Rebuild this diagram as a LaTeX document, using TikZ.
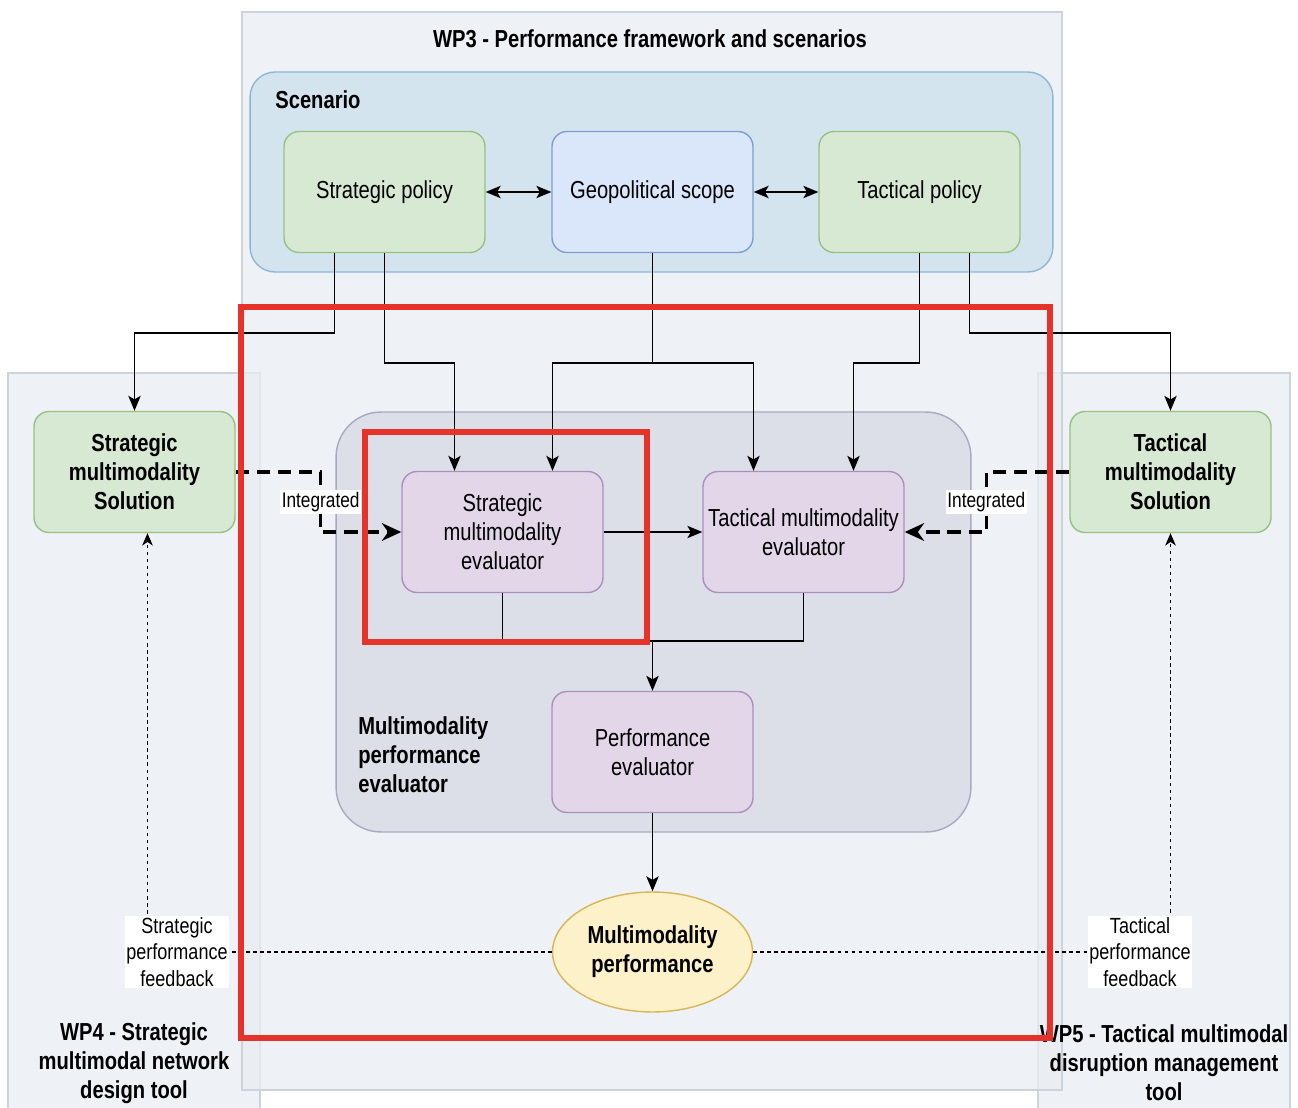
\documentclass[tikz,border=0pt]{standalone}
\usepackage{fontspec}
\setmainfont{Liberation Sans}[FakeStretch=0.82]
\usetikzlibrary{arrows.meta,calc,shapes.geometric}

\definecolor{panelfill}{HTML}{E9EDF2}
\definecolor{panelline}{HTML}{CDD3DA}
\definecolor{scenfill}{HTML}{D3E4EF}
\definecolor{scenline}{HTML}{8DB6D6}
\definecolor{greenfill}{HTML}{D7E8D3}
\definecolor{greenline}{HTML}{96C282}
\definecolor{bluefill}{HTML}{DAE6FA}
\definecolor{blueline}{HTML}{7E9ED0}
\definecolor{mpefill}{HTML}{DCDEE8}
\definecolor{mpeline}{HTML}{A9AAC2}
\definecolor{purplefill}{HTML}{E2D6E8}
\definecolor{purpleline}{HTML}{AB90BC}
\definecolor{yellowfill}{HTML}{FDF1C9}
\definecolor{yellowline}{HTML}{D6B656}
\definecolor{redline}{HTML}{E6332A}

\newcommand{\fbig}{\fontsize{14}{16.5}\selectfont}
\newcommand{\fsmall}{\fontsize{12.5}{15}\selectfont}

\tikzset{
  panel/.style={draw=panelline, fill=panelfill, fill opacity=0.75, line width=0.6pt},
  box/.style={draw, rounded corners=0.3cm, minimum width=4.02cm, minimum height=2.42cm,
    align=center, line width=0.8pt, font=\fbig, inner sep=1pt},
  greenbox/.style={box, fill=greenfill, draw=greenline},
  bluebox/.style={box, fill=bluefill, draw=blueline},
  purplebox/.style={box, fill=purplefill, draw=purpleline},
  title/.style={font=\fbig\bfseries, align=center, inner sep=0pt},
  conn/.style={line width=0.9pt},
  arr/.style={conn, -{Stealth[length=8.5pt,width=7pt,inset=2pt]}},
  dbl/.style={conn, {Stealth[length=8.5pt,width=7pt,inset=2pt]}-{Stealth[length=8.5pt,width=7pt,inset=2pt]}},
  integ/.style={line width=2pt, dash pattern=on 7.5pt off 4.5pt,
    -{Stealth[length=11pt,width=10pt,inset=3.5pt]}},
  feedback/.style={line width=0.7pt, dash pattern=on 2pt off 2pt,
    -{Stealth[length=7pt,width=6pt,inset=2pt]}},
  lbl/.style={fill=white, inner sep=1pt, font=\fsmall, align=center},
  redbox/.style={draw=redline, line width=3pt},
}

\begin{document}
\begin{tikzpicture}[x=0.02cm,y=-0.02cm]
  \clip (0,0) rectangle (1298,1108);
  \fill[white] (0,0) rectangle (1298,1108);

  % work package panels
  \draw[panel] (8,373) rectangle (260,1115);
  \draw[panel] (1038,373) rectangle (1290,1115);
  \draw[panel] (242,12) rectangle (1062,1090);
  \node[title] (wp3) at (650,39) {WP3 - Performance framework and scenarios};
  \node[title] (wp4) at (134,1063) {WP4 - Strategic\\multimodal network\\design tool};
  \node[title] (wp5) at (1164,1063) {WP5 - Tactical multimodal\\disruption management\\tool};

  % scenario
  \node[draw=scenline, fill=scenfill, rounded corners=0.5cm, line width=0.8pt,
    minimum width=16.06cm, minimum height=4cm] (scen) at (651.5,172) {};
  \node[title, anchor=west] (scenlbl) at (275,100) {Scenario};
  \node[greenbox] (spol) at (384.5,192) {Strategic policy};
  \node[bluebox] (geo) at (652.5,192) {Geopolitical scope};
  \node[greenbox] (tpol) at (919.5,192) {Tactical policy};
  \draw[dbl] (spol) -- (geo);
  \draw[dbl] (geo) -- (tpol);

  % solutions
  \node[greenbox, font=\fbig\bfseries] (ssol) at (134.5,472) {Strategic\\multimodality\\Solution};
  \node[greenbox, font=\fbig\bfseries] (tsol) at (1170.5,472) {Tactical\\multimodality\\Solution};

  % performance evaluator
  \node[draw=mpeline, fill=mpefill, rounded corners=0.9cm, line width=0.8pt,
    minimum width=12.7cm, minimum height=8.4cm] (mpe) at (653.5,622) {};
  \node[title, anchor=west, align=left] (mpelbl) at (358,755)
    {Multimodality\\performance\\evaluator};
  \node[purplebox] (seval) at (502.5,532) {Strategic\\multimodality\\evaluator};
  \node[purplebox] (teval) at (803.5,532) {Tactical multimodality\\evaluator};
  \node[purplebox] (peval) at (652.5,752) {Performance\\evaluator};
  \node[ellipse, draw=yellowline, fill=yellowfill, line width=0.8pt, inner sep=0pt,
    minimum width=4cm, minimum height=2.4cm, font=\fbig\bfseries, align=center]
    (mperf) at (652.5,952) {Multimodality\\performance};

  % scenario inputs
  \draw[arr] ($(spol.south)+(-50,0)$) -- ++(0,80) -| (ssol.north);
  \draw[arr] (spol.south) -- ++(0,110) -| ($(seval.north)+(-48,0)$);
  \draw[arr] (geo.south) -- ++(0,110) -| ($(seval.north)+(50,0)$);
  \draw[arr] (geo.south) -- ++(0,110) -| ($(teval.north)+(-50,0)$);
  \draw[arr] (tpol.south) -- ++(0,110) -| ($(teval.north)+(50,0)$);
  \draw[arr] ($(tpol.south)+(50,0)$) -- ++(0,80) -| (tsol.north);

  % evaluation chain
  \draw[arr] (seval) -- (teval);
  \coordinate (merge) at ($(peval.north)+(0,-50)$);
  \draw[conn] (seval.south) |- (merge) -| (teval.south);
  \draw[arr] (merge) -- (peval.north);
  \draw[arr] (peval) -- (mperf);

  % integration
  \draw[integ] (ssol.east) -- ++(85,0) |- node[pos=0.25, lbl, font=\fontsize{12}{14}\selectfont] (sint) {Integrated} (seval.west);
  \draw[integ] (tsol.west) -- ++(-83,0) |- node[pos=0.25, lbl, font=\fontsize{12}{14}\selectfont] (tint) {Integrated} (teval.east);

  % feedback
  \draw[feedback] (mperf.west) -| ($(ssol.south)+(13,0)$);
  \draw[feedback] (mperf.east) -| (tsol.south);
  \node[lbl] (sfb) at (177,952) {Strategic\\performance\\feedback};
  \node[lbl] (tfb) at (1140,952) {Tactical\\performance\\feedback};

  % highlights
  \draw[redbox] (241,307) rectangle (1050,1038);
  \draw[redbox] (365,432) rectangle (647,642);
\end{tikzpicture}
\end{document}
